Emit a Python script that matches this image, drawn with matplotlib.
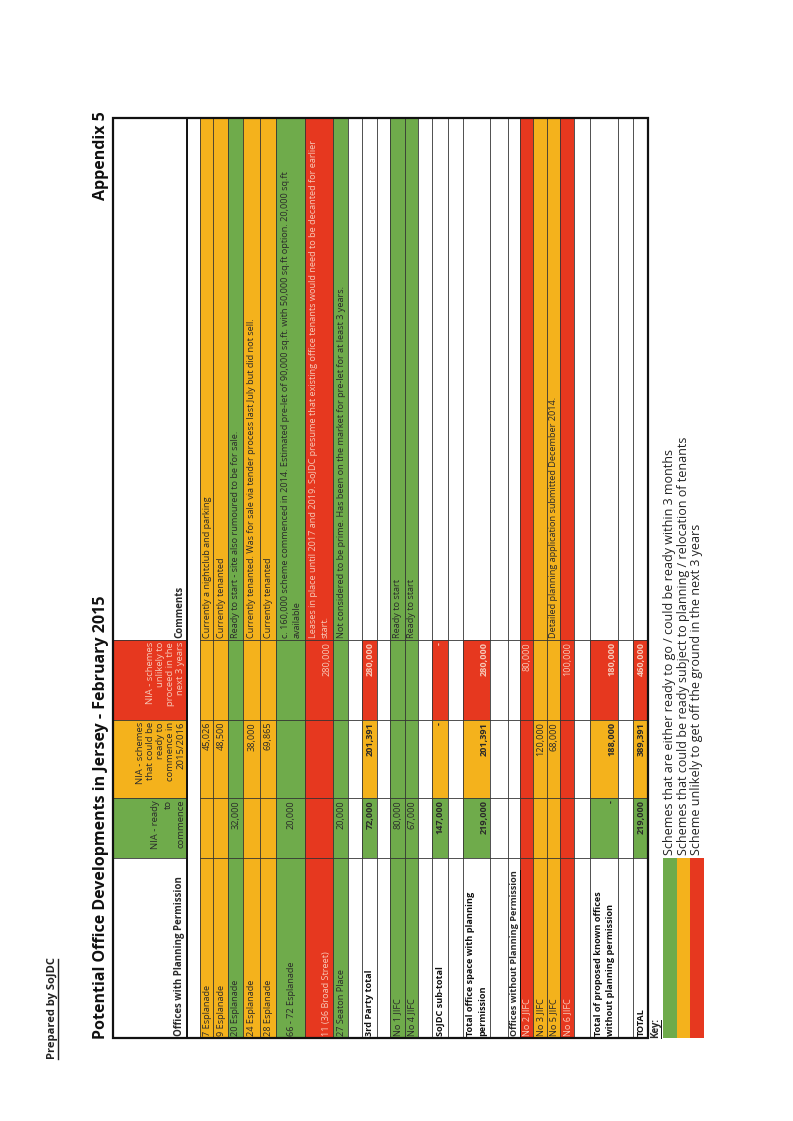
import matplotlib
matplotlib.use("Agg")
import matplotlib.pyplot as plt
from matplotlib.patches import Rectangle

plt.rcParams['font.family'] = ['Open Sans', 'DejaVu Sans']

GREEN, ORANGE, RED, WHITE = '#6fab4b', '#f4b21c', '#e6381f', '#ffffff'

# ---- data ----
names = ["7 Esplanade", "9 Esplanade", "20 Esplanade", "24 Esplanade", "28 Esplanade",
         "66 - 72 Esplanade", "11 (36 Broad Street)", "27 Seaton Place", "",
         "3rd Party total", "", "No 1 JIFC", "No 4 JIFC", "", "SoJDC sub-total", "",
         "Total office space with planning\npermission", "", "Offices without Planning Permission",
         "No 2 JIFC", "No 3 JIFC", "No 5 JIFC", "No 6 JIFC", "",
         "Total of proposed known offices\nwithout planning permission", "", "TOTAL"]
ready = ["", "", "32,000", "", "", "20,000", "", "20,000", "", "72,000", "", "80,000", "67,000",
         "", "147,000", "", "219,000", "", "", "", "", "", "", "", "-", "", "219,000"]
could = ["45,026", "48,500", "", "38,000", "69,865", "", "", "", "", "201,391", "", "", "",
         "", "-", "", "201,391", "", "", "", "120,000", "68,000", "", "", "188,000", "", "389,391"]
unlikely = ["", "", "", "", "", "", "280,000", "", "", "280,000", "", "", "", "", "-", "",
            "280,000", "", "", "80,000", "", "", "100,000", "", "180,000", "", "460,000"]
comments = ["Currently a nightclub and parking", "Currently tenanted",
            "Ready to start - site also rumoured to be for sale.",
            "Currently tenanted. Was for sale via tender process last July but did not sell.",
            "Currently tenanted",
            "c. 160,000 scheme commenced in 2014. Estimated pre-let of 90,000 sq.ft. with 50,000 sq.ft option. 20,000 sq.ft\navailable",
            "Leases in place until 2017 and 2019. SoJDC presume that existing office tenants would need to be decanted for earlier\nstart.",
            "Not considered to be prime. Has been on the market for pre-let for at least 3 years.",
            "", "", "", "Ready to start", "Ready to start", "", "", "", "", "", "",
            "", "", "Detailed planning application submitted December 2014.", "", "", "", "", ""]
row_fill = ["O", "O", "G", "O", "O", "G", "R", "G", "", "T", "", "G", "G", "", "T", "",
            "T", "", "", "R", "O", "O", "R", "", "T", "", "T"]
key_text = ["Schemes that are either ready to go / could be ready within 3 months",
            "Schemes that could be ready subject to planning / relocation of tenants",
            "Scheme unlikely to get off the ground in the next 3 years"]

# ---- layout (image pixel coords: rows along x, columns along y) ----
row_edges = [200, 213, 228, 243, 260, 276, 305, 333, 348, 362, 377, 390, 405, 418, 432, 448,
             463, 490, 508, 520, 533, 547, 560, 574, 590, 618, 633, 648]
H = 1121
col_u = [83, 263, 323, 401, 481, 1003]   # landscape horizontal = H - image y
T0 = 113
FS = 6.6

fig = plt.figure(figsize=(7.93, 11.21), dpi=100)
ax = fig.add_axes([0, 0, 1, 1])
ax.set_xlim(0, 793); ax.set_ylim(H, 0); ax.axis('off')

def rect(v0, v1, u0, u1, c):
    ax.add_patch(Rectangle((v0, H - u1), v1 - v0, u1 - u0, facecolor=c, edgecolor='none', zorder=1))

def txt(v, u, s, ha='left', va='center', size=FS, color='#2a2a2a', bold=False, ls=1.15):
    ax.text(v, H - u, s, rotation=90, rotation_mode='anchor', ha=ha, va=va, fontsize=size,
            color=color, fontweight='bold' if bold else 'normal', linespacing=ls, zorder=3,
            multialignment=ha)

fmap = {"O": ORANGE, "G": GREEN, "R": RED}
# header
rect(T0, 187, col_u[1], col_u[2], GREEN)
rect(T0, 187, col_u[2], col_u[3], ORANGE)
rect(T0, 187, col_u[3], col_u[4], RED)
txt(185, col_u[0] + 2, "Offices with Planning Permission", va='bottom', bold=True, size=7)
txt(185, col_u[2] - 2, "NIA - ready\nto\ncommence", ha='right', va='bottom', size=6.8, ls=1.5)
txt(185, col_u[3] - 2, "NIA - schemes\nthat could be\nready to\ncommence in\n2015/2016", ha='right', va='bottom', size=6.8, ls=1.15)
txt(185, col_u[4] - 2, "NIA - schemes\nunlikely to\nproceed in the\nnext 3 years", ha='right', va='bottom', size=6.8, color='#f7c9b8', ls=1.15)
txt(185, col_u[4] + 2, "Comments", va='bottom', bold=True, size=7)

for i, name in enumerate(names):
    v0, v1 = row_edges[i], row_edges[i + 1]
    f = row_fill[i]
    vc = (v0 + v1) / 2 + 0.5
    two = (v1 - v0) > 20
    if f in fmap:
        rect(v0, v1, col_u[0], col_u[5], fmap[f])
        tc = '#f7c9b8' if f == "R" else '#2a2a2a'
    elif f == "T":
        rect(v0, v1, col_u[1], col_u[2], GREEN)
        rect(v0, v1, col_u[2], col_u[3], ORANGE)
        rect(v0, v1, col_u[3], col_u[4], RED)
        tc = '#2a2a2a'
    else:
        tc = '#2a2a2a'
    bold = f == "T" or name.startswith("Offices without")
    nv = vc
    if name.startswith("11 ("):
        nv = v1 - 7
    if name:
        txt(nv, col_u[0] + 2, name, bold=bold, color=tc if f != "T" else '#111', size=FS, ls=1.5)
        if name.startswith("Offices without"):
            ax.plot([vc + 5, vc + 5], [H - col_u[0] - 2, H - col_u[0] - 168], color='#111', lw=0.7, zorder=3)
    for val, ci, cc in ((ready[i], 2, GREEN), (could[i], 3, ORANGE), (unlikely[i], 4, RED)):
        if val:
            vv = v1 - 6 if (two and ("Total" in name or name.startswith("11"))) else vc
            col = '#f7c9b8' if (cc == RED or f == "R") else '#2a2a2a'
            txt(vv, col_u[ci] - 2, val, ha='right', color=col, bold=(f == "T"), size=FS)
    if comments[i]:
        txt(vc, col_u[4] + 2, comments[i], color=tc, size=FS, ls=1.4)

# grid lines
for v in [187, 200] + row_edges[1:-1]:
    ax.plot([v, v], [H - col_u[0], H - col_u[5]], color='#333', lw=0.6, zorder=2)
for u in col_u[1:-1]:
    ax.plot([200, 648], [H - u, H - u], color='#333', lw=0.6, zorder=2)
    ax.plot([T0, 187], [H - u, H - u], color='#333', lw=0.6, zorder=2)
ax.plot([187, 187], [H - col_u[0], H - col_u[5]], color='#111', lw=1.4, zorder=2)
ax.add_patch(Rectangle((T0, H - col_u[5]), 648 - T0, col_u[5] - col_u[0], facecolor='none',
                       edgecolor='#111', lw=1.6, zorder=4))

# titles
txt(52, 62, "Prepared by SoJDC", bold=True, size=8, color='#222')
ax.plot([58, 58], [H - 62, H - 162], color='#222', lw=1.0)
txt(101, 82, "Potential Office Developments in Jersey - February 2015", bold=True, size=11.5, color='#111')
txt(101, 1010, "Appendix 5", ha='right', bold=True, size=11.5, color='#111')

# key
txt(656, 83, "Key:", bold=True, size=7)
ax.plot([661, 661], [H - 83, H - 101], color='#111', lw=0.7)
kcols = [GREEN, ORANGE, RED]
for k in range(3):
    v0 = 663 + 13.5 * k
    rect(v0, v0 + 13.5, 83, 263, kcols[k])
    txt(v0 + 6.5, 266, key_text[k], size=9, color='#222')

fig.savefig("out.png", dpi=100, facecolor='white')
